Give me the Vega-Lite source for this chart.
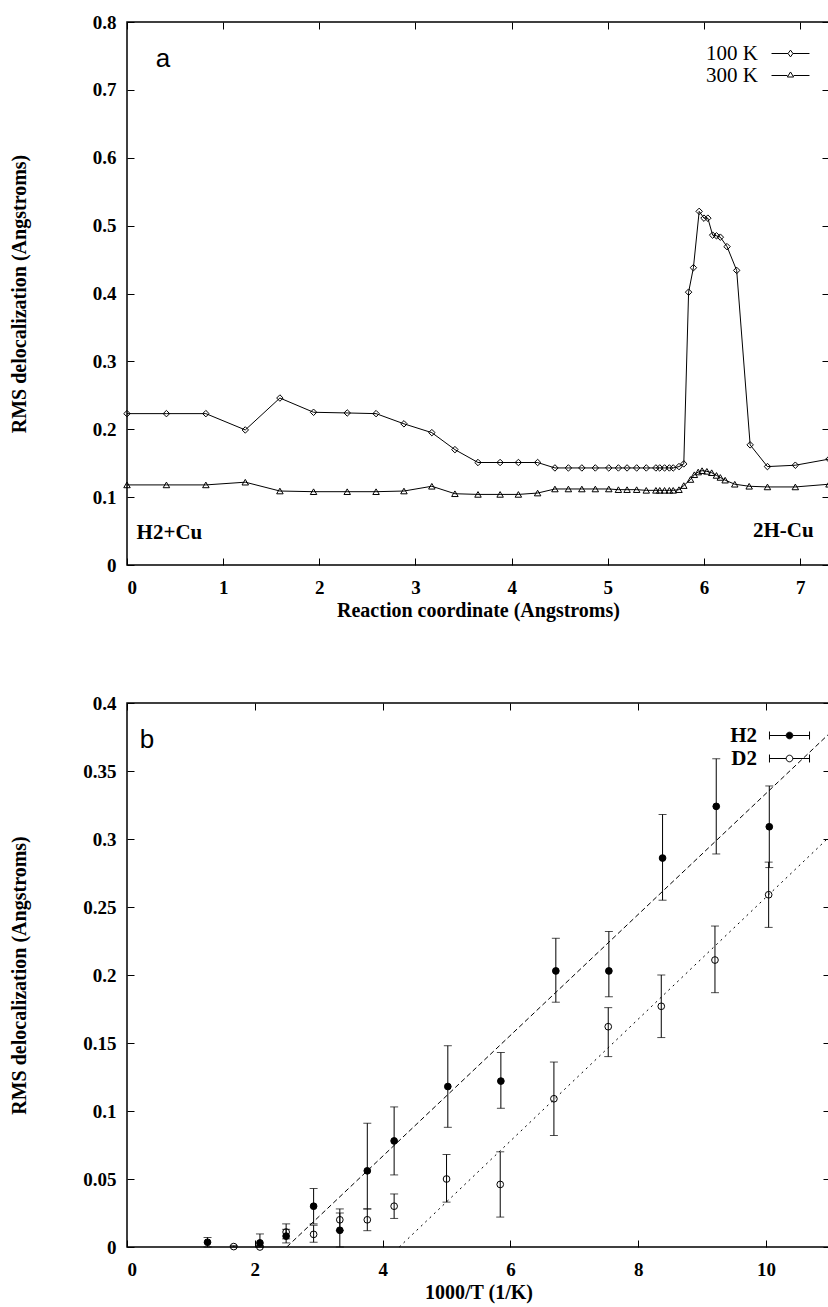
{
  "$schema": "https://vega.github.io/schema/vega-lite/v6.json",
  "background": "white",
  "padding": {"left": 8, "top": 12, "right": 0, "bottom": 2},
  "spacing": 72,
  "resolve": {
    "scale": {"fill": "independent", "stroke": "independent", "shape": "independent", "strokeDash": "independent"},
    "legend": {"fill": "independent", "stroke": "independent", "shape": "independent", "strokeDash": "independent"}
  },
  "datasets": {
    "a": [
      {"rc": 0, "rms": 0.223, "series": "100 K"},
      {"rc": 0.41, "rms": 0.223, "series": "100 K"},
      {"rc": 0.82, "rms": 0.223, "series": "100 K"},
      {"rc": 1.23, "rms": 0.199, "series": "100 K"},
      {"rc": 1.59, "rms": 0.246, "series": "100 K"},
      {"rc": 1.94, "rms": 0.225, "series": "100 K"},
      {"rc": 2.29, "rms": 0.224, "series": "100 K"},
      {"rc": 2.59, "rms": 0.223, "series": "100 K"},
      {"rc": 2.88, "rms": 0.208, "series": "100 K"},
      {"rc": 3.17, "rms": 0.195, "series": "100 K"},
      {"rc": 3.41, "rms": 0.170, "series": "100 K"},
      {"rc": 3.65, "rms": 0.151, "series": "100 K"},
      {"rc": 3.88, "rms": 0.151, "series": "100 K"},
      {"rc": 4.07, "rms": 0.151, "series": "100 K"},
      {"rc": 4.27, "rms": 0.151, "series": "100 K"},
      {"rc": 4.45, "rms": 0.143, "series": "100 K"},
      {"rc": 4.59, "rms": 0.143, "series": "100 K"},
      {"rc": 4.73, "rms": 0.143, "series": "100 K"},
      {"rc": 4.87, "rms": 0.143, "series": "100 K"},
      {"rc": 5.01, "rms": 0.143, "series": "100 K"},
      {"rc": 5.11, "rms": 0.143, "series": "100 K"},
      {"rc": 5.20, "rms": 0.143, "series": "100 K"},
      {"rc": 5.30, "rms": 0.143, "series": "100 K"},
      {"rc": 5.40, "rms": 0.143, "series": "100 K"},
      {"rc": 5.50, "rms": 0.143, "series": "100 K"},
      {"rc": 5.54, "rms": 0.143, "series": "100 K"},
      {"rc": 5.59, "rms": 0.143, "series": "100 K"},
      {"rc": 5.64, "rms": 0.143, "series": "100 K"},
      {"rc": 5.68, "rms": 0.143, "series": "100 K"},
      {"rc": 5.74, "rms": 0.145, "series": "100 K"},
      {"rc": 5.79, "rms": 0.149, "series": "100 K"},
      {"rc": 5.84, "rms": 0.402, "series": "100 K"},
      {"rc": 5.89, "rms": 0.438, "series": "100 K"},
      {"rc": 5.95, "rms": 0.521, "series": "100 K"},
      {"rc": 6.00, "rms": 0.511, "series": "100 K"},
      {"rc": 6.04, "rms": 0.511, "series": "100 K"},
      {"rc": 6.09, "rms": 0.486, "series": "100 K"},
      {"rc": 6.13, "rms": 0.485, "series": "100 K"},
      {"rc": 6.17, "rms": 0.483, "series": "100 K"},
      {"rc": 6.24, "rms": 0.469, "series": "100 K"},
      {"rc": 6.34, "rms": 0.434, "series": "100 K"},
      {"rc": 6.48, "rms": 0.177, "series": "100 K"},
      {"rc": 6.66, "rms": 0.145, "series": "100 K"},
      {"rc": 6.95, "rms": 0.147, "series": "100 K"},
      {"rc": 7.30, "rms": 0.156, "series": "100 K"},
      {"rc": 0, "rms": 0.118, "series": "300 K"},
      {"rc": 0.41, "rms": 0.118, "series": "300 K"},
      {"rc": 0.82, "rms": 0.118, "series": "300 K"},
      {"rc": 1.23, "rms": 0.122, "series": "300 K"},
      {"rc": 1.59, "rms": 0.109, "series": "300 K"},
      {"rc": 1.94, "rms": 0.108, "series": "300 K"},
      {"rc": 2.29, "rms": 0.108, "series": "300 K"},
      {"rc": 2.59, "rms": 0.108, "series": "300 K"},
      {"rc": 2.88, "rms": 0.109, "series": "300 K"},
      {"rc": 3.17, "rms": 0.116, "series": "300 K"},
      {"rc": 3.41, "rms": 0.105, "series": "300 K"},
      {"rc": 3.65, "rms": 0.104, "series": "300 K"},
      {"rc": 3.88, "rms": 0.104, "series": "300 K"},
      {"rc": 4.07, "rms": 0.104, "series": "300 K"},
      {"rc": 4.27, "rms": 0.106, "series": "300 K"},
      {"rc": 4.45, "rms": 0.112, "series": "300 K"},
      {"rc": 4.59, "rms": 0.112, "series": "300 K"},
      {"rc": 4.73, "rms": 0.112, "series": "300 K"},
      {"rc": 4.87, "rms": 0.112, "series": "300 K"},
      {"rc": 5.01, "rms": 0.112, "series": "300 K"},
      {"rc": 5.11, "rms": 0.111, "series": "300 K"},
      {"rc": 5.20, "rms": 0.111, "series": "300 K"},
      {"rc": 5.30, "rms": 0.111, "series": "300 K"},
      {"rc": 5.40, "rms": 0.110, "series": "300 K"},
      {"rc": 5.50, "rms": 0.110, "series": "300 K"},
      {"rc": 5.54, "rms": 0.110, "series": "300 K"},
      {"rc": 5.59, "rms": 0.110, "series": "300 K"},
      {"rc": 5.64, "rms": 0.110, "series": "300 K"},
      {"rc": 5.68, "rms": 0.110, "series": "300 K"},
      {"rc": 5.74, "rms": 0.111, "series": "300 K"},
      {"rc": 5.79, "rms": 0.117, "series": "300 K"},
      {"rc": 5.86, "rms": 0.126, "series": "300 K"},
      {"rc": 5.90, "rms": 0.133, "series": "300 K"},
      {"rc": 5.94, "rms": 0.137, "series": "300 K"},
      {"rc": 5.98, "rms": 0.139, "series": "300 K"},
      {"rc": 6.03, "rms": 0.138, "series": "300 K"},
      {"rc": 6.08, "rms": 0.136, "series": "300 K"},
      {"rc": 6.13, "rms": 0.132, "series": "300 K"},
      {"rc": 6.17, "rms": 0.129, "series": "300 K"},
      {"rc": 6.22, "rms": 0.125, "series": "300 K"},
      {"rc": 6.32, "rms": 0.119, "series": "300 K"},
      {"rc": 6.47, "rms": 0.116, "series": "300 K"},
      {"rc": 6.66, "rms": 0.115, "series": "300 K"},
      {"rc": 6.95, "rms": 0.115, "series": "300 K"},
      {"rc": 7.30, "rms": 0.119, "series": "300 K"}
    ],
    "b": [
      {"invT": 1.26, "rms": 0.0035, "lo": 0, "hi": 0.007, "series": "H2"},
      {"invT": 2.08, "rms": 0.003, "lo": 0, "hi": 0.0096, "series": "H2"},
      {"invT": 2.49, "rms": 0.008, "lo": 0.003, "hi": 0.013, "series": "H2"},
      {"invT": 2.92, "rms": 0.030, "lo": 0.017, "hi": 0.043, "series": "H2"},
      {"invT": 3.33, "rms": 0.0123, "lo": 0, "hi": 0.025, "series": "H2"},
      {"invT": 3.76, "rms": 0.056, "lo": 0.028, "hi": 0.091, "series": "H2"},
      {"invT": 4.18, "rms": 0.078, "lo": 0.053, "hi": 0.103, "series": "H2"},
      {"invT": 5.02, "rms": 0.118, "lo": 0.088, "hi": 0.148, "series": "H2"},
      {"invT": 5.85, "rms": 0.122, "lo": 0.102, "hi": 0.143, "series": "H2"},
      {"invT": 6.71, "rms": 0.203, "lo": 0.180, "hi": 0.227, "series": "H2"},
      {"invT": 7.54, "rms": 0.203, "lo": 0.184, "hi": 0.232, "series": "H2"},
      {"invT": 8.38, "rms": 0.286, "lo": 0.255, "hi": 0.318, "series": "H2"},
      {"invT": 9.22, "rms": 0.324, "lo": 0.289, "hi": 0.359, "series": "H2"},
      {"invT": 10.05, "rms": 0.309, "lo": 0.279, "hi": 0.339, "series": "H2"},
      {"invT": 1.67, "rms": 0.0003, "lo": 0, "hi": 0.001, "series": "D2"},
      {"invT": 2.08, "rms": 0.0, "lo": 0, "hi": 0.001, "series": "D2"},
      {"invT": 2.49, "rms": 0.011, "lo": 0.006, "hi": 0.017, "series": "D2"},
      {"invT": 2.92, "rms": 0.0093, "lo": 0.0035, "hi": 0.016, "series": "D2"},
      {"invT": 3.33, "rms": 0.020, "lo": 0.012, "hi": 0.028, "series": "D2"},
      {"invT": 3.76, "rms": 0.020, "lo": 0.012, "hi": 0.028, "series": "D2"},
      {"invT": 4.18, "rms": 0.030, "lo": 0.021, "hi": 0.039, "series": "D2"},
      {"invT": 5.00, "rms": 0.050, "lo": 0.033, "hi": 0.068, "series": "D2"},
      {"invT": 5.84, "rms": 0.046, "lo": 0.022, "hi": 0.070, "series": "D2"},
      {"invT": 6.68, "rms": 0.109, "lo": 0.082, "hi": 0.136, "series": "D2"},
      {"invT": 7.53, "rms": 0.162, "lo": 0.140, "hi": 0.176, "series": "D2"},
      {"invT": 8.36, "rms": 0.177, "lo": 0.154, "hi": 0.200, "series": "D2"},
      {"invT": 9.20, "rms": 0.211, "lo": 0.187, "hi": 0.236, "series": "D2"},
      {"invT": 10.04, "rms": 0.259, "lo": 0.235, "hi": 0.283, "series": "D2"}
    ],
    "fit": [
      {"invT": 2.5, "rms": 0, "fit": "H2 fit"},
      {"invT": 11, "rms": 0.378, "fit": "H2 fit"},
      {"invT": 4.26, "rms": 0, "fit": "D2 fit"},
      {"invT": 11, "rms": 0.302, "fit": "D2 fit"}
    ]
  },
  "vconcat": [
    {
      "width": 702,
      "height": 543,
      "data": {"name": "a"},
      "layer": [
        {
          "mark": {"type": "line", "color": "black", "strokeWidth": 1},
          "encoding": {
            "x": {"field": "rc", "type": "quantitative", "scale": {"domain": [0, 7.3], "nice": false, "zero": false},
                  "axis": {"values": [0, 1, 2, 3, 4, 5, 6, 7], "format": "~r", "title": "Reaction coordinate (Angstroms)", "labelPadding": 20, "titlePadding": 3}},
            "y": {"field": "rms", "type": "quantitative", "scale": {"domain": [0, 0.8], "nice": false},
                  "axis": {"values": [0, 0.1, 0.2, 0.3, 0.4, 0.5, 0.6, 0.7, 0.8], "format": "~r", "title": "RMS delocalization (Angstroms)", "labelPadding": 18, "titlePadding": 63}},
            "detail": {"field": "series", "type": "nominal"}
          }
        },
        {
          "transform": [{"filter": "datum.series === '100 K'"}],
          "mark": {"type": "point", "shape": "diamond", "filled": false, "color": "black", "size": 42, "strokeWidth": 1, "opacity": 1},
          "encoding": {
            "x": {"field": "rc", "type": "quantitative", "scale": {"domain": [0, 7.3], "nice": false, "zero": false},
                  "axis": {"orient": "top", "values": [0, 1, 2, 3, 4, 5, 6, 7], "labels": false, "title": null}},
            "y": {"field": "rms", "type": "quantitative", "scale": {"domain": [0, 0.8], "nice": false},
                  "axis": {"orient": "right", "values": [0, 0.1, 0.2, 0.3, 0.4, 0.5, 0.6, 0.7, 0.8], "labels": false, "title": null}},
            "stroke": {"field": "series", "type": "nominal", "scale": {"domain": ["100 K"], "range": ["black"]},
              "legend": {
                "orient": "none", "legendX": 653, "legendY": 21, "title": null,
                "labelFont": "Liberation Serif", "labelFontSize": 21, "labelFontWeight": "normal", "labelColor": "black",
                "labelAlign": "right", "labelOffset": -43,
                "symbolSize": 225, "symbolStrokeWidth": 1, "symbolStrokeColor": "black", "symbolFillColor": "transparent", "symbolOpacity": 1,
                "symbolType": "M-2.53,0H-0.33M0.33,0H2.53M0,-0.45L0.33,0L0,0.45L-0.33,0Z"
              }}
          }
        },
        {
          "transform": [{"filter": "datum.series === '300 K'"}],
          "mark": {"type": "point", "shape": "triangle-up", "filled": false, "color": "black", "size": 42, "strokeWidth": 1, "opacity": 1},
          "encoding": {
            "x": {"field": "rc", "type": "quantitative", "scale": {"domain": [0, 7.3], "nice": false, "zero": false}, "axis": null},
            "y": {"field": "rms", "type": "quantitative", "scale": {"domain": [0, 0.8], "nice": false}, "axis": null},
            "fill": {"field": "series", "type": "nominal", "scale": {"domain": ["300 K"], "range": ["transparent"]},
              "legend": {
                "orient": "none", "legendX": 653, "legendY": 43, "title": null,
                "labelFont": "Liberation Serif", "labelFontSize": 21, "labelFontWeight": "normal", "labelColor": "black",
                "labelAlign": "right", "labelOffset": -43,
                "symbolSize": 225, "symbolStrokeWidth": 1, "symbolStrokeColor": "black", "symbolFillColor": "transparent", "symbolOpacity": 1,
                "symbolType": "M-2.53,0H-0.42M0.42,0H2.53M0,-0.47L0.42,0.2L-0.42,0.2Z"
              }}
          }
        },
        {
          "data": {"values": [{}]},
          "mark": {"type": "text", "text": "a", "font": "Liberation Sans", "fontSize": 26, "align": "left", "baseline": "alphabetic", "color": "black"},
          "encoding": {"x": {"datum": 0.30, "type": "quantitative", "axis": null}, "y": {"datum": 0.733, "type": "quantitative", "axis": null}}
        },
        {
          "data": {"values": [{}]},
          "mark": {"type": "text", "text": "H2+Cu", "font": "Liberation Serif", "fontWeight": "bold", "fontSize": 21, "align": "left", "baseline": "alphabetic", "color": "black"},
          "encoding": {"x": {"datum": 0.10, "type": "quantitative", "axis": null}, "y": {"datum": 0.038, "type": "quantitative", "axis": null}}
        },
        {
          "data": {"values": [{}]},
          "mark": {"type": "text", "text": "2H-Cu", "font": "Liberation Serif", "fontWeight": "bold", "fontSize": 21, "align": "right", "baseline": "alphabetic", "color": "black"},
          "encoding": {"x": {"datum": 7.14, "type": "quantitative", "axis": null}, "y": {"datum": 0.041, "type": "quantitative", "axis": null}}
        }
      ],
      "resolve": {"axis": {"x": "independent", "y": "independent"}}
    },
    {
      "width": 703,
      "height": 544,
      "layer": [
        {
          "data": {"name": "fit"},
          "mark": {"type": "line", "color": "black", "strokeWidth": 1},
          "encoding": {
            "x": {"field": "invT", "type": "quantitative", "scale": {"domain": [0, 11], "nice": false, "zero": false},
                  "axis": {"values": [0, 2, 4, 6, 8, 10], "format": "~r", "title": "1000/T (1/K)", "labelPadding": 20, "titlePadding": 3}},
            "y": {"field": "rms", "type": "quantitative", "scale": {"domain": [0, 0.4], "nice": false},
                  "axis": {"values": [0, 0.05, 0.1, 0.15, 0.2, 0.25, 0.3, 0.35, 0.4], "format": "~r", "title": "RMS delocalization (Angstroms)", "labelPadding": 18, "titlePadding": 53}},
            "strokeDash": {"field": "fit", "type": "nominal", "scale": {"domain": ["H2 fit", "D2 fit"], "range": [[5, 3], [2, 4]]}, "legend": null}
          }
        },
        {
          "data": {"name": "b"},
          "mark": {"type": "errorbar", "color": "black", "thickness": 1, "ticks": {"size": 8, "color": "black", "thickness": 1}},
          "encoding": {
            "x": {"field": "invT", "type": "quantitative", "scale": {"domain": [0, 11], "nice": false, "zero": false}, "axis": null},
            "y": {"field": "lo", "type": "quantitative", "scale": {"domain": [0, 0.4], "nice": false}, "axis": null},
            "y2": {"field": "hi"}
          }
        },
        {
          "data": {"name": "b"},
          "mark": {"type": "point", "shape": "circle", "filled": true, "stroke": "black", "strokeWidth": 1, "size": 45, "opacity": 1},
          "encoding": {
            "x": {"field": "invT", "type": "quantitative", "scale": {"domain": [0, 11], "nice": false, "zero": false},
                  "axis": {"orient": "top", "values": [0, 2, 4, 6, 8, 10], "labels": false, "title": null}},
            "y": {"field": "rms", "type": "quantitative", "scale": {"domain": [0, 0.4], "nice": false},
                  "axis": {"orient": "right", "values": [0, 0.05, 0.1, 0.15, 0.2, 0.25, 0.3, 0.35, 0.4], "labels": false, "title": null}},
            "fill": {"field": "series", "type": "nominal", "scale": {"domain": ["H2", "D2"], "range": ["black", "transparent"]},
              "legend": {
                "orient": "none", "legendX": 652, "legendY": 22, "title": null,
                "labelFont": "Liberation Serif", "labelFontSize": 21, "labelFontWeight": "bold", "labelColor": "black",
                "labelAlign": "right", "labelOffset": -43,
                "symbolSize": 225, "symbolStrokeWidth": 1, "symbolStrokeColor": "black", "symbolOpacity": 1,
                "rowPadding": 1,
                "symbolType": "M-2.67,-0.53V0.53M-2.67,0H-0.44M0.44,0H2.67M2.67,-0.53V0.53M0.44,0A0.44,0.44 0 1,1 -0.44,0A0.44,0.44 0 1,1 0.44,0Z"
              }}
          }
        },
        {
          "data": {"values": [{}]},
          "mark": {"type": "text", "text": "b", "font": "Liberation Sans", "fontSize": 26, "align": "left", "baseline": "alphabetic", "color": "black"},
          "encoding": {"x": {"datum": 0.2, "type": "quantitative", "axis": null}, "y": {"datum": 0.367, "type": "quantitative", "axis": null}}
        }
      ],
      "resolve": {"axis": {"x": "independent", "y": "independent"}}
    }
  ],
  "config": {
    "font": "Liberation Serif",
    "view": {"stroke": "black", "strokeWidth": 1.5},
    "axis": {
      "domain": false, "grid": false, "ticks": true, "tickColor": "black", "tickSize": -7, "tickWidth": 1,
      "labelFont": "Liberation Serif", "labelFontWeight": "bold", "labelFontSize": 19, "labelColor": "black",
      "titleFont": "Liberation Serif", "titleFontWeight": "bold", "titleFontSize": 20, "titleColor": "black"
    }
  }
}
